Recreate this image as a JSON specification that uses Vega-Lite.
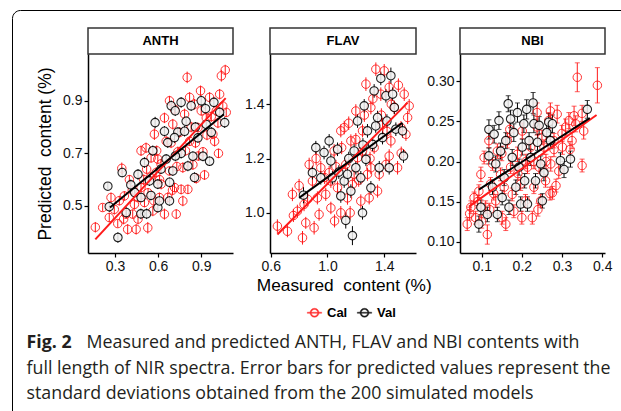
{
  "$schema": "https://vega.github.io/schema/vega-lite/v6.json",
  "padding": {"left": 11, "top": 9, "right": 0, "bottom": 0},
  "background": "white",
  "datasets": {
    "anth": [
      {"s":"Cal","m":0.163,"p":0.419,"e":0.02},{"s":"Cal","m":0.214,"p":0.494,"e":0.015},{"s":"Cal","m":0.26,"p":0.456,"e":0.018},{"s":"Cal","m":0.295,"p":0.487,"e":0.02},{"s":"Cal","m":0.319,"p":0.433,"e":0.015},{"s":"Cal","m":0.347,"p":0.643,"e":0.022},{"s":"Cal","m":0.365,"p":0.538,"e":0.018},{"s":"Cal","m":0.388,"p":0.411,"e":0.02},{"s":"Cal","m":0.423,"p":0.469,"e":0.017},{"s":"Cal","m":0.447,"p":0.411,"e":0.02},{"s":"Cal","m":0.458,"p":0.532,"e":0.016},{"s":"Cal","m":0.481,"p":0.57,"e":0.02},{"s":"Cal","m":0.505,"p":0.513,"e":0.018},{"s":"Cal","m":0.528,"p":0.417,"e":0.022},{"s":"Cal","m":0.547,"p":0.61,"e":0.017},{"s":"Cal","m":0.563,"p":0.481,"e":0.02},{"s":"Cal","m":0.574,"p":0.773,"e":0.022},{"s":"Cal","m":0.598,"p":0.678,"e":0.018},{"s":"Cal","m":0.621,"p":0.583,"e":0.02},{"s":"Cal","m":0.644,"p":0.469,"e":0.021},{"s":"Cal","m":0.656,"p":0.746,"e":0.019},{"s":"Cal","m":0.679,"p":0.633,"e":0.017},{"s":"Cal","m":0.702,"p":0.811,"e":0.02},{"s":"Cal","m":0.714,"p":0.57,"e":0.018},{"s":"Cal","m":0.737,"p":0.706,"e":0.02},{"s":"Cal","m":0.76,"p":0.563,"e":0.019},{"s":"Cal","m":0.784,"p":0.849,"e":0.021},{"s":"Cal","m":0.802,"p":0.989,"e":0.022},{"s":"Cal","m":0.819,"p":0.746,"e":0.018},{"s":"Cal","m":0.842,"p":0.657,"e":0.02},{"s":"Cal","m":0.853,"p":0.887,"e":0.02},{"s":"Cal","m":0.877,"p":0.798,"e":0.019},{"s":"Cal","m":0.895,"p":0.938,"e":0.02},{"s":"Cal","m":0.912,"p":0.706,"e":0.018},{"s":"Cal","m":0.935,"p":0.835,"e":0.021},{"s":"Cal","m":0.958,"p":0.913,"e":0.02},{"s":"Cal","m":0.981,"p":0.773,"e":0.019},{"s":"Cal","m":1.005,"p":0.862,"e":0.02},{"s":"Cal","m":1.04,"p":0.995,"e":0.022},{"s":"Cal","m":1.067,"p":1.017,"e":0.02},{"s":"Cal","m":1.074,"p":0.856,"e":0.018},{"s":"Cal","m":1.028,"p":0.925,"e":0.02},{"s":"Cal","m":0.481,"p":0.71,"e":0.02},{"s":"Cal","m":0.4,"p":0.6,"e":0.018},{"s":"Cal","m":0.516,"p":0.721,"e":0.02},{"s":"Cal","m":0.667,"p":0.532,"e":0.02},{"s":"Cal","m":0.726,"p":0.469,"e":0.019},{"s":"Cal","m":0.772,"p":0.519,"e":0.02},{"s":"Cal","m":0.807,"p":0.563,"e":0.018},{"s":"Cal","m":0.865,"p":0.605,"e":0.02},{"s":"Cal","m":0.923,"p":0.618,"e":0.019},{"s":"Cal","m":0.993,"p":0.746,"e":0.02},{"s":"Cal","m":1.016,"p":0.816,"e":0.02},{"s":"Cal","m":0.9,"p":0.862,"e":0.019},{"s":"Cal","m":0.714,"p":0.868,"e":0.02},{"s":"Cal","m":0.644,"p":0.835,"e":0.02},{"s":"Cal","m":0.551,"p":0.683,"e":0.018},{"s":"Cal","m":0.586,"p":0.627,"e":0.02},{"s":"Cal","m":0.609,"p":0.532,"e":0.019},{"s":"Cal","m":0.435,"p":0.506,"e":0.02},{"s":"Cal","m":0.377,"p":0.469,"e":0.018},{"s":"Cal","m":0.272,"p":0.532,"e":0.019},{"s":"Cal","m":0.772,"p":0.646,"e":0.02},{"s":"Cal","m":0.819,"p":0.913,"e":0.02},{"s":"Cal","m":0.679,"p":0.9,"e":0.019},{"s":"Cal","m":0.33,"p":0.52,"e":0.018},{"s":"Cal","m":0.36,"p":0.45,"e":0.02},{"s":"Cal","m":0.42,"p":0.56,"e":0.019},{"s":"Cal","m":0.5,"p":0.6,"e":0.02},{"s":"Cal","m":0.53,"p":0.55,"e":0.018},{"s":"Cal","m":0.57,"p":0.52,"e":0.02},{"s":"Cal","m":0.62,"p":0.66,"e":0.019},{"s":"Cal","m":0.69,"p":0.74,"e":0.02},{"s":"Cal","m":0.73,"p":0.65,"e":0.018},{"s":"Cal","m":0.75,"p":0.78,"e":0.02},{"s":"Cal","m":0.79,"p":0.71,"e":0.019},{"s":"Cal","m":0.83,"p":0.8,"e":0.02},{"s":"Cal","m":0.86,"p":0.74,"e":0.02},{"s":"Cal","m":0.88,"p":0.69,"e":0.018},{"s":"Cal","m":0.94,"p":0.77,"e":0.02},{"s":"Cal","m":0.97,"p":0.84,"e":0.02},{"s":"Cal","m":1.05,"p":0.88,"e":0.019},{"s":"Cal","m":1.02,"p":0.7,"e":0.018},{"s":"Cal","m":0.7,"p":0.56,"e":0.02},{"s":"Cal","m":0.61,"p":0.6,"e":0.018},{"s":"Cal","m":0.46,"p":0.45,"e":0.02},{"s":"Cal","m":0.52,"p":0.64,"e":0.019},{"s":"Cal","m":0.59,"p":0.71,"e":0.02},
      {"s":"Val","m":0.26,"p":0.497,"e":0.02},{"s":"Val","m":0.25,"p":0.575,"e":0.015},{"s":"Val","m":0.32,"p":0.38,"e":0.02},{"s":"Val","m":0.35,"p":0.627,"e":0.018},{"s":"Val","m":0.378,"p":0.475,"e":0.02},{"s":"Val","m":0.437,"p":0.551,"e":0.017},{"s":"Val","m":0.46,"p":0.62,"e":0.02},{"s":"Val","m":0.481,"p":0.532,"e":0.018},{"s":"Val","m":0.505,"p":0.665,"e":0.02},{"s":"Val","m":0.54,"p":0.595,"e":0.019},{"s":"Val","m":0.563,"p":0.71,"e":0.02},{"s":"Val","m":0.579,"p":0.817,"e":0.022},{"s":"Val","m":0.598,"p":0.494,"e":0.02},{"s":"Val","m":0.609,"p":0.519,"e":0.018},{"s":"Val","m":0.644,"p":0.784,"e":0.02},{"s":"Val","m":0.656,"p":0.678,"e":0.019},{"s":"Val","m":0.667,"p":0.741,"e":0.02},{"s":"Val","m":0.679,"p":0.519,"e":0.018},{"s":"Val","m":0.691,"p":0.881,"e":0.02},{"s":"Val","m":0.702,"p":0.633,"e":0.019},{"s":"Val","m":0.719,"p":0.862,"e":0.02},{"s":"Val","m":0.737,"p":0.781,"e":0.018},{"s":"Val","m":0.76,"p":0.894,"e":0.02},{"s":"Val","m":0.76,"p":0.7,"e":0.019},{"s":"Val","m":0.784,"p":0.784,"e":0.02},{"s":"Val","m":0.795,"p":0.822,"e":0.018},{"s":"Val","m":0.807,"p":0.652,"e":0.02},{"s":"Val","m":0.83,"p":0.881,"e":0.02},{"s":"Val","m":0.842,"p":0.689,"e":0.019},{"s":"Val","m":0.853,"p":0.608,"e":0.02},{"s":"Val","m":0.877,"p":0.759,"e":0.018},{"s":"Val","m":0.9,"p":0.9,"e":0.02},{"s":"Val","m":0.912,"p":0.689,"e":0.019},{"s":"Val","m":0.935,"p":0.81,"e":0.02},{"s":"Val","m":0.958,"p":0.67,"e":0.018},{"s":"Val","m":0.97,"p":0.78,"e":0.02},{"s":"Val","m":0.988,"p":0.894,"e":0.02},{"s":"Val","m":1.028,"p":0.856,"e":0.019},{"s":"Val","m":1.063,"p":0.817,"e":0.02},{"s":"Val","m":0.714,"p":0.76,"e":0.02},{"s":"Val","m":0.598,"p":0.583,"e":0.019},{"s":"Val","m":0.48,"p":0.47,"e":0.02},{"s":"Val","m":0.62,"p":0.64,"e":0.018},{"s":"Val","m":0.72,"p":0.69,"e":0.02},{"s":"Val","m":0.55,"p":0.54,"e":0.018},{"s":"Val","m":0.41,"p":0.58,"e":0.02},{"s":"Val","m":0.86,"p":0.8,"e":0.019},{"s":"Val","m":0.93,"p":0.87,"e":0.02},{"s":"Val","m":0.68,"p":0.59,"e":0.018},{"s":"Val","m":0.52,"p":0.47,"e":0.02}
    ],
    "flav": [
      {"s":"Cal","m":0.647,"p":0.951,"e":0.025},{"s":"Cal","m":0.718,"p":0.932,"e":0.022},{"s":"Cal","m":0.753,"p":1.068,"e":0.025},{"s":"Cal","m":0.788,"p":1.006,"e":0.024},{"s":"Cal","m":0.824,"p":0.908,"e":0.025},{"s":"Cal","m":0.847,"p":0.963,"e":0.022},{"s":"Cal","m":0.871,"p":1.178,"e":0.025},{"s":"Cal","m":0.894,"p":1.117,"e":0.024},{"s":"Cal","m":0.906,"p":0.945,"e":0.025},{"s":"Cal","m":0.941,"p":0.994,"e":0.023},{"s":"Cal","m":0.953,"p":1.166,"e":0.025},{"s":"Cal","m":0.988,"p":1.068,"e":0.024},{"s":"Cal","m":1.012,"p":1.148,"e":0.025},{"s":"Cal","m":1.024,"p":1.018,"e":0.023},{"s":"Cal","m":1.047,"p":1.228,"e":0.025},{"s":"Cal","m":1.071,"p":1.092,"e":0.024},{"s":"Cal","m":1.094,"p":1.0,"e":0.025},{"s":"Cal","m":1.118,"p":1.314,"e":0.025},{"s":"Cal","m":1.129,"p":1.178,"e":0.023},{"s":"Cal","m":1.141,"p":1.055,"e":0.025},{"s":"Cal","m":1.165,"p":1.265,"e":0.024},{"s":"Cal","m":1.176,"p":1.105,"e":0.025},{"s":"Cal","m":1.2,"p":1.375,"e":0.025},{"s":"Cal","m":1.212,"p":1.203,"e":0.023},{"s":"Cal","m":1.235,"p":1.043,"e":0.025},{"s":"Cal","m":1.247,"p":1.302,"e":0.024},{"s":"Cal","m":1.271,"p":1.474,"e":0.025},{"s":"Cal","m":1.282,"p":1.142,"e":0.024},{"s":"Cal","m":1.306,"p":1.388,"e":0.025},{"s":"Cal","m":1.329,"p":1.24,"e":0.023},{"s":"Cal","m":1.341,"p":1.529,"e":0.025},{"s":"Cal","m":1.353,"p":1.08,"e":0.024},{"s":"Cal","m":1.376,"p":1.437,"e":0.025},{"s":"Cal","m":1.388,"p":1.326,"e":0.024},{"s":"Cal","m":1.412,"p":1.178,"e":0.025},{"s":"Cal","m":1.435,"p":1.462,"e":0.024},{"s":"Cal","m":1.447,"p":1.265,"e":0.025},{"s":"Cal","m":1.471,"p":1.388,"e":0.024},{"s":"Cal","m":1.494,"p":1.166,"e":0.025},{"s":"Cal","m":1.518,"p":1.314,"e":0.024},{"s":"Cal","m":1.541,"p":1.437,"e":0.025},{"s":"Cal","m":1.565,"p":1.351,"e":0.024},{"s":"Cal","m":1.576,"p":1.394,"e":0.025},{"s":"Cal","m":1.553,"p":1.289,"e":0.024},{"s":"Cal","m":1.024,"p":1.117,"e":0.025},{"s":"Cal","m":0.929,"p":1.055,"e":0.024},{"s":"Cal","m":0.835,"p":1.031,"e":0.025},{"s":"Cal","m":1.094,"p":1.302,"e":0.024},{"s":"Cal","m":1.188,"p":1.142,"e":0.025},{"s":"Cal","m":1.294,"p":1.055,"e":0.024},{"s":"Cal","m":1.4,"p":1.523,"e":0.025},{"s":"Cal","m":1.365,"p":1.142,"e":0.024},{"s":"Cal","m":1.435,"p":1.209,"e":0.025},{"s":"Cal","m":1.306,"p":1.166,"e":0.024},{"s":"Cal","m":1.247,"p":1.228,"e":0.025},{"s":"Cal","m":0.76,"p":0.99,"e":0.024},{"s":"Cal","m":0.8,"p":1.1,"e":0.025},{"s":"Cal","m":0.86,"p":1.05,"e":0.024},{"s":"Cal","m":0.92,"p":1.2,"e":0.025},{"s":"Cal","m":0.98,"p":1.13,"e":0.024},{"s":"Cal","m":1.06,"p":1.17,"e":0.025},{"s":"Cal","m":1.1,"p":1.24,"e":0.024},{"s":"Cal","m":1.15,"p":1.33,"e":0.025},{"s":"Cal","m":1.2,"p":1.27,"e":0.024},{"s":"Cal","m":1.26,"p":1.36,"e":0.025},{"s":"Cal","m":1.32,"p":1.42,"e":0.024},{"s":"Cal","m":1.38,"p":1.36,"e":0.025},{"s":"Cal","m":1.45,"p":1.4,"e":0.024},{"s":"Cal","m":1.5,"p":1.47,"e":0.025},{"s":"Cal","m":1.22,"p":1.12,"e":0.024},{"s":"Cal","m":1.16,"p":1.0,"e":0.025},{"s":"Cal","m":1.05,"p":0.97,"e":0.024},{"s":"Cal","m":1.42,"p":1.3,"e":0.025},{"s":"Cal","m":1.52,"p":1.22,"e":0.024},{"s":"Cal","m":1.3,"p":1.2,"e":0.025},
      {"s":"Val","m":0.831,"p":1.065,"e":0.03},{"s":"Val","m":0.918,"p":1.24,"e":0.025},{"s":"Val","m":0.894,"p":1.148,"e":0.025},{"s":"Val","m":0.976,"p":1.222,"e":0.025},{"s":"Val","m":1.012,"p":1.265,"e":0.025},{"s":"Val","m":0.953,"p":1.129,"e":0.025},{"s":"Val","m":1.035,"p":1.129,"e":0.025},{"s":"Val","m":1.071,"p":1.234,"e":0.025},{"s":"Val","m":1.094,"p":1.062,"e":0.025},{"s":"Val","m":1.118,"p":1.117,"e":0.025},{"s":"Val","m":1.129,"p":0.972,"e":0.03},{"s":"Val","m":1.176,"p":0.916,"e":0.035},{"s":"Val","m":1.141,"p":1.142,"e":0.025},{"s":"Val","m":1.165,"p":1.08,"e":0.025},{"s":"Val","m":1.188,"p":1.228,"e":0.025},{"s":"Val","m":1.2,"p":1.166,"e":0.025},{"s":"Val","m":1.212,"p":1.338,"e":0.025},{"s":"Val","m":1.235,"p":1.129,"e":0.025},{"s":"Val","m":1.247,"p":1.0,"e":0.025},{"s":"Val","m":1.259,"p":1.394,"e":0.025},{"s":"Val","m":1.271,"p":1.197,"e":0.025},{"s":"Val","m":1.282,"p":1.302,"e":0.025},{"s":"Val","m":1.306,"p":1.092,"e":0.025},{"s":"Val","m":1.318,"p":1.252,"e":0.025},{"s":"Val","m":1.329,"p":1.449,"e":0.025},{"s":"Val","m":1.353,"p":1.351,"e":0.025},{"s":"Val","m":1.365,"p":1.166,"e":0.025},{"s":"Val","m":1.376,"p":1.495,"e":0.025},{"s":"Val","m":1.388,"p":1.277,"e":0.025},{"s":"Val","m":1.412,"p":1.431,"e":0.025},{"s":"Val","m":1.419,"p":1.338,"e":0.025},{"s":"Val","m":1.435,"p":1.166,"e":0.025},{"s":"Val","m":1.447,"p":1.505,"e":0.03},{"s":"Val","m":1.459,"p":1.437,"e":0.025},{"s":"Val","m":1.471,"p":1.388,"e":0.025},{"s":"Val","m":1.482,"p":1.308,"e":0.025},{"s":"Val","m":1.529,"p":1.302,"e":0.025},{"s":"Val","m":1.536,"p":1.209,"e":0.025},{"s":"Val","m":1.024,"p":1.191,"e":0.025},{"s":"Val","m":1.25,"p":1.25,"e":0.025},{"s":"Val","m":1.34,"p":1.32,"e":0.025},{"s":"Val","m":1.15,"p":1.2,"e":0.025},{"s":"Val","m":1.08,"p":1.15,"e":0.025}
    ],
    "nbi": [
      {"s":"Cal","m":0.064,"p":0.122,"e":0.008},{"s":"Cal","m":0.073,"p":0.143,"e":0.008},{"s":"Cal","m":0.081,"p":0.155,"e":0.007},{"s":"Cal","m":0.085,"p":0.13,"e":0.008},{"s":"Cal","m":0.093,"p":0.163,"e":0.008},{"s":"Cal","m":0.098,"p":0.184,"e":0.009},{"s":"Cal","m":0.106,"p":0.205,"e":0.008},{"s":"Cal","m":0.11,"p":0.143,"e":0.008},{"s":"Cal","m":0.114,"p":0.109,"e":0.012},{"s":"Cal","m":0.118,"p":0.226,"e":0.009},{"s":"Cal","m":0.122,"p":0.172,"e":0.008},{"s":"Cal","m":0.127,"p":0.197,"e":0.008},{"s":"Cal","m":0.135,"p":0.151,"e":0.008},{"s":"Cal","m":0.139,"p":0.213,"e":0.009},{"s":"Cal","m":0.147,"p":0.184,"e":0.008},{"s":"Cal","m":0.151,"p":0.13,"e":0.008},{"s":"Cal","m":0.156,"p":0.168,"e":0.008},{"s":"Cal","m":0.16,"p":0.122,"e":0.008},{"s":"Cal","m":0.164,"p":0.226,"e":0.009},{"s":"Cal","m":0.172,"p":0.193,"e":0.008},{"s":"Cal","m":0.176,"p":0.159,"e":0.008},{"s":"Cal","m":0.18,"p":0.138,"e":0.008},{"s":"Cal","m":0.189,"p":0.209,"e":0.009},{"s":"Cal","m":0.197,"p":0.172,"e":0.008},{"s":"Cal","m":0.201,"p":0.238,"e":0.01},{"s":"Cal","m":0.209,"p":0.151,"e":0.008},{"s":"Cal","m":0.214,"p":0.193,"e":0.008},{"s":"Cal","m":0.222,"p":0.218,"e":0.009},{"s":"Cal","m":0.226,"p":0.13,"e":0.008},{"s":"Cal","m":0.23,"p":0.168,"e":0.008},{"s":"Cal","m":0.238,"p":0.243,"e":0.01},{"s":"Cal","m":0.243,"p":0.193,"e":0.008},{"s":"Cal","m":0.247,"p":0.151,"e":0.008},{"s":"Cal","m":0.255,"p":0.218,"e":0.009},{"s":"Cal","m":0.259,"p":0.176,"e":0.008},{"s":"Cal","m":0.267,"p":0.251,"e":0.01},{"s":"Cal","m":0.272,"p":0.197,"e":0.009},{"s":"Cal","m":0.276,"p":0.161,"e":0.008},{"s":"Cal","m":0.28,"p":0.226,"e":0.009},{"s":"Cal","m":0.288,"p":0.259,"e":0.011},{"s":"Cal","m":0.292,"p":0.188,"e":0.009},{"s":"Cal","m":0.301,"p":0.218,"e":0.009},{"s":"Cal","m":0.309,"p":0.243,"e":0.01},{"s":"Cal","m":0.317,"p":0.251,"e":0.01},{"s":"Cal","m":0.325,"p":0.226,"e":0.01},{"s":"Cal","m":0.33,"p":0.257,"e":0.012},{"s":"Cal","m":0.334,"p":0.247,"e":0.01},{"s":"Cal","m":0.338,"p":0.305,"e":0.018},{"s":"Cal","m":0.35,"p":0.195,"e":0.008},{"s":"Cal","m":0.354,"p":0.238,"e":0.01},{"s":"Cal","m":0.388,"p":0.295,"e":0.022},{"s":"Cal","m":0.238,"p":0.261,"e":0.012},{"s":"Cal","m":0.271,"p":0.263,"e":0.01},{"s":"Cal","m":0.07,"p":0.135,"e":0.008},{"s":"Cal","m":0.09,"p":0.15,"e":0.008},{"s":"Cal","m":0.1,"p":0.125,"e":0.008},{"s":"Cal","m":0.13,"p":0.16,"e":0.008},{"s":"Cal","m":0.15,"p":0.21,"e":0.009},{"s":"Cal","m":0.17,"p":0.24,"e":0.01},{"s":"Cal","m":0.19,"p":0.185,"e":0.008},{"s":"Cal","m":0.21,"p":0.2,"e":0.009},{"s":"Cal","m":0.23,"p":0.2,"e":0.009},{"s":"Cal","m":0.25,"p":0.23,"e":0.009},{"s":"Cal","m":0.26,"p":0.2,"e":0.009},{"s":"Cal","m":0.28,"p":0.215,"e":0.009},{"s":"Cal","m":0.3,"p":0.235,"e":0.01},{"s":"Cal","m":0.32,"p":0.215,"e":0.01},{"s":"Cal","m":0.27,"p":0.16,"e":0.008},{"s":"Cal","m":0.24,"p":0.14,"e":0.008},{"s":"Cal","m":0.2,"p":0.13,"e":0.008},{"s":"Cal","m":0.35,"p":0.26,"e":0.01},{"s":"Cal","m":0.285,"p":0.17,"e":0.008},{"s":"Cal","m":0.12,"p":0.14,"e":0.008},
      {"s":"Val","m":0.093,"p":0.122,"e":0.01},{"s":"Val","m":0.098,"p":0.143,"e":0.009},{"s":"Val","m":0.114,"p":0.134,"e":0.009},{"s":"Val","m":0.118,"p":0.24,"e":0.012},{"s":"Val","m":0.118,"p":0.207,"e":0.01},{"s":"Val","m":0.127,"p":0.168,"e":0.009},{"s":"Val","m":0.131,"p":0.234,"e":0.011},{"s":"Val","m":0.135,"p":0.197,"e":0.01},{"s":"Val","m":0.139,"p":0.134,"e":0.009},{"s":"Val","m":0.143,"p":0.251,"e":0.011},{"s":"Val","m":0.147,"p":0.213,"e":0.01},{"s":"Val","m":0.151,"p":0.155,"e":0.009},{"s":"Val","m":0.156,"p":0.18,"e":0.01},{"s":"Val","m":0.16,"p":0.226,"e":0.01},{"s":"Val","m":0.166,"p":0.272,"e":0.01},{"s":"Val","m":0.168,"p":0.143,"e":0.009},{"s":"Val","m":0.172,"p":0.253,"e":0.011},{"s":"Val","m":0.176,"p":0.205,"e":0.01},{"s":"Val","m":0.18,"p":0.236,"e":0.011},{"s":"Val","m":0.185,"p":0.168,"e":0.009},{"s":"Val","m":0.189,"p":0.261,"e":0.012},{"s":"Val","m":0.193,"p":0.193,"e":0.01},{"s":"Val","m":0.197,"p":0.147,"e":0.009},{"s":"Val","m":0.201,"p":0.218,"e":0.01},{"s":"Val","m":0.205,"p":0.247,"e":0.011},{"s":"Val","m":0.207,"p":0.176,"e":0.009},{"s":"Val","m":0.212,"p":0.265,"e":0.012},{"s":"Val","m":0.214,"p":0.147,"e":0.009},{"s":"Val","m":0.218,"p":0.226,"e":0.01},{"s":"Val","m":0.222,"p":0.205,"e":0.01},{"s":"Val","m":0.228,"p":0.273,"e":0.013},{"s":"Val","m":0.23,"p":0.247,"e":0.011},{"s":"Val","m":0.234,"p":0.176,"e":0.009},{"s":"Val","m":0.239,"p":0.224,"e":0.01},{"s":"Val","m":0.243,"p":0.245,"e":0.011},{"s":"Val","m":0.247,"p":0.197,"e":0.01},{"s":"Val","m":0.251,"p":0.151,"e":0.009},{"s":"Val","m":0.255,"p":0.186,"e":0.01},{"s":"Val","m":0.262,"p":0.236,"e":0.011},{"s":"Val","m":0.267,"p":0.249,"e":0.011},{"s":"Val","m":0.271,"p":0.226,"e":0.01},{"s":"Val","m":0.276,"p":0.247,"e":0.011},{"s":"Val","m":0.296,"p":0.201,"e":0.01},{"s":"Val","m":0.305,"p":0.19,"e":0.01},{"s":"Val","m":0.321,"p":0.203,"e":0.01},{"s":"Val","m":0.363,"p":0.265,"e":0.011}
    ],
    "fits": [
      {"g":"ANTH","s":"Cal","m":0.163,"p":0.373},{"g":"ANTH","s":"Cal","m":1.07,"p":0.91},
      {"g":"ANTH","s":"Val","m":0.265,"p":0.494},{"g":"ANTH","s":"Val","m":1.058,"p":0.849},
      {"g":"FLAV","s":"Cal","m":0.647,"p":0.92},{"g":"FLAV","s":"Cal","m":1.565,"p":1.406},
      {"g":"FLAV","s":"Val","m":0.8,"p":1.055},{"g":"FLAV","s":"Val","m":1.529,"p":1.332},
      {"g":"NBI","s":"Cal","m":0.0685,"p":0.1438},{"g":"NBI","s":"Cal","m":0.386,"p":0.258},
      {"g":"NBI","s":"Val","m":0.093,"p":0.165},{"g":"NBI","s":"Val","m":0.369,"p":0.254}
    ]
  },
  "vconcat": [
    {
      "vconcat": [
        {
          "hconcat": [
            {
              "vconcat": [
                {"width": 145, "height": 26, "data": {"values": [{"t": "ANTH"}]}, "view": {"stroke": "#333333", "strokeWidth": 1.5},
                 "mark": {"type": "text", "font": "Liberation Sans", "fontSize": 13, "fontWeight": "bold", "color": "#000000"},
                 "encoding": {"text": {"field": "t", "type": "nominal"}}},
                {"width": 145, "height": 199,
                 "layer": [
                   {"data": {"name": "anth"}, "mark": {"type": "errorbar", "thickness": 1},
                    "encoding": {
                      "x": {"field": "m", "type": "quantitative", "scale": {"domain": [0.112, 1.121], "nice": false, "zero": false}, "axis": {"values": [0.3, 0.6, 0.9], "format": ".1f", "title": null}},
                      "y": {"field": "p", "type": "quantitative", "scale": {"domain": [0.321, 1.078], "nice": false, "zero": false}, "axis": {"values": [0.5, 0.7, 0.9], "format": ".1f", "title": "Predicted\u00a0 content (%)"}},
                      "yError": {"field": "e"},
                      "color": {"field": "s", "type": "nominal", "scale": {"domain": ["Cal", "Val"], "range": ["#ff1a1a", "#000000"]},
                                "legend": {"orient": "none", "legendX": -76, "legendY": -18, "direction": "horizontal", "title": null, "padding": 296, "strokeColor": "#000000", "cornerRadius": 8,
                                           "symbolType": "M-1,0A1,1,0,1,1,1,0A1,1,0,1,1,-1,0ZM-0.72,0A0.72,0.72,0,1,0,0.72,0A0.72,0.72,0,1,0,-0.72,0ZM-1.6,-0.13L1.6,-0.13L1.6,0.13L-1.6,0.13Z", "symbolSize": 81, "symbolStrokeWidth": 0.4, "symbolOpacity": 1,
                                           "labelFont": "Liberation Sans", "labelFontSize": 13, "labelFontWeight": "bold", "labelColor": "#000000", "labelOffset": 6, "columnPadding": 8}}
                    }},
                   {"data": {"name": "anth"}, "transform": [{"filter": "datum.s === 'Cal'"}], "mark": {"type": "point", "shape": "circle", "size": 72, "strokeWidth": 1, "opacity": 0.9, "filled": false},
                    "encoding": {
                      "x": {"field": "m", "type": "quantitative"},
                      "y": {"field": "p", "type": "quantitative"},
                      "color": {"field": "s", "type": "nominal"}
                    }},
                   {"data": {"name": "anth"}, "transform": [{"filter": "datum.s === 'Val'"}], "mark": {"type": "point", "shape": "circle", "size": 72, "strokeWidth": 1.1, "opacity": 0.85, "filled": false, "fill": "#f2f2f2"},
                    "encoding": {
                      "x": {"field": "m", "type": "quantitative"},
                      "y": {"field": "p", "type": "quantitative"},
                      "color": {"field": "s", "type": "nominal"}
                    }},
                   {"data": {"name": "fits"}, "transform": [{"filter": "datum.g === 'ANTH'"}], "mark": {"type": "line", "strokeWidth": 2},
                    "encoding": {
                      "x": {"field": "m", "type": "quantitative"},
                      "y": {"field": "p", "type": "quantitative"},
                      "color": {"field": "s", "type": "nominal"}
                    }}
                 ]}
              ],
              "spacing": 0, "bounds": "flush"
            },
            {
              "vconcat": [
                {"width": 146, "height": 26, "data": {"values": [{"t": "FLAV"}]}, "view": {"stroke": "#333333", "strokeWidth": 1.5},
                 "mark": {"type": "text", "font": "Liberation Sans", "fontSize": 13, "fontWeight": "bold", "color": "#000000"},
                 "encoding": {"text": {"field": "t", "type": "nominal"}}},
                {"width": 146, "height": 199,
                 "layer": [
                   {"data": {"name": "flav"}, "mark": {"type": "errorbar", "thickness": 1},
                    "encoding": {
                      "x": {"field": "m", "type": "quantitative", "scale": {"domain": [0.595, 1.624], "nice": false, "zero": false}, "axis": {"values": [0.6, 0.8, 1.0, 1.2, 1.4, 1.6], "format": ".1f", "title": null}},
                      "y": {"field": "p", "type": "quantitative", "scale": {"domain": [0.852, 1.585], "nice": false, "zero": false}, "axis": {"values": [1.0, 1.2, 1.4], "format": ".1f", "title": null, "minExtent": 32, "maxExtent": 32}},
                      "yError": {"field": "e"},
                      "color": {"field": "s", "type": "nominal"}
                    }},
                   {"data": {"name": "flav"}, "transform": [{"filter": "datum.s === 'Cal'"}], "mark": {"type": "point", "shape": "circle", "size": 72, "strokeWidth": 1, "opacity": 0.9, "filled": false},
                    "encoding": {
                      "x": {"field": "m", "type": "quantitative"},
                      "y": {"field": "p", "type": "quantitative"},
                      "color": {"field": "s", "type": "nominal"}
                    }},
                   {"data": {"name": "flav"}, "transform": [{"filter": "datum.s === 'Val'"}], "mark": {"type": "point", "shape": "circle", "size": 72, "strokeWidth": 1.1, "opacity": 0.85, "filled": false, "fill": "#f2f2f2"},
                    "encoding": {
                      "x": {"field": "m", "type": "quantitative"},
                      "y": {"field": "p", "type": "quantitative"},
                      "color": {"field": "s", "type": "nominal"}
                    }},
                   {"data": {"name": "fits"}, "transform": [{"filter": "datum.g === 'FLAV'"}], "mark": {"type": "line", "strokeWidth": 2},
                    "encoding": {
                      "x": {"field": "m", "type": "quantitative"},
                      "y": {"field": "p", "type": "quantitative"},
                      "color": {"field": "s", "type": "nominal"}
                    }}
                 ]}
              ],
              "spacing": 0, "bounds": "flush"
            },
            {
              "vconcat": [
                {"width": 145, "height": 26, "data": {"values": [{"t": "NBI"}]}, "view": {"stroke": "#333333", "strokeWidth": 1.5},
                 "mark": {"type": "text", "font": "Liberation Sans", "fontSize": 13, "fontWeight": "bold", "color": "#000000"},
                 "encoding": {"text": {"field": "t", "type": "nominal"}}},
                {"width": 145, "height": 199,
                 "layer": [
                   {"data": {"name": "nbi"}, "mark": {"type": "errorbar", "thickness": 1, "ticks": {"size": 5, "thickness": 1}},
                    "encoding": {
                      "x": {"field": "m", "type": "quantitative", "scale": {"domain": [0.046, 0.407], "nice": false, "zero": false}, "axis": {"values": [0.1, 0.2, 0.3, 0.4], "format": ".1f", "title": null}},
                      "y": {"field": "p", "type": "quantitative", "scale": {"domain": [0.086, 0.334], "nice": false, "zero": false}, "axis": {"values": [0.1, 0.15, 0.2, 0.25, 0.3], "format": ".2f", "title": null, "minExtent": 39, "maxExtent": 39}},
                      "yError": {"field": "e"},
                      "color": {"field": "s", "type": "nominal"}
                    }},
                   {"data": {"name": "nbi"}, "transform": [{"filter": "datum.s === 'Cal'"}], "mark": {"type": "point", "shape": "circle", "size": 72, "strokeWidth": 1, "opacity": 0.9, "filled": false},
                    "encoding": {
                      "x": {"field": "m", "type": "quantitative"},
                      "y": {"field": "p", "type": "quantitative"},
                      "color": {"field": "s", "type": "nominal"}
                    }},
                   {"data": {"name": "nbi"}, "transform": [{"filter": "datum.s === 'Val'"}], "mark": {"type": "point", "shape": "circle", "size": 72, "strokeWidth": 1.1, "opacity": 0.85, "filled": false, "fill": "#f2f2f2"},
                    "encoding": {
                      "x": {"field": "m", "type": "quantitative"},
                      "y": {"field": "p", "type": "quantitative"},
                      "color": {"field": "s", "type": "nominal"}
                    }},
                   {"data": {"name": "fits"}, "transform": [{"filter": "datum.g === 'NBI'"}], "mark": {"type": "line", "strokeWidth": 2},
                    "encoding": {
                      "x": {"field": "m", "type": "quantitative"},
                      "y": {"field": "p", "type": "quantitative"},
                      "color": {"field": "s", "type": "nominal"}
                    }}
                 ]}
              ],
              "spacing": 0, "bounds": "flush"
            }
          ],
          "spacing": 4,
          "title": {
            "text": "Measured\u00a0 content (%)", "orient": "bottom", "anchor": "middle", "dx": 20, "offset": 4, "baseline": "top",
            "font": "Liberation Sans", "fontSize": 17.3, "fontWeight": "normal", "color": "#000000"
          }
        }
      ],
      "title": {
        "text": "Fig. 2",
        "subtitle": ["\u200b\u00a0\u00a0\u00a0\u00a0\u00a0\u00a0\u00a0\u00a0\u00a0\u00a0\u00a0\u00a0\u00a0Measured and predicted ANTH, FLAV and NBI contents with", "full length of NIR spectra. Error bars for predicted values represent the", "standard deviations obtained from the 200 simulated models"],
        "orient": "bottom", "anchor": "start", "frame": "bounds", "dx": -10, "offset": 40, "baseline": "top",
        "font": "Open Sans", "fontSize": 17.8, "fontWeight": "bold", "color": "#231f20",
        "subtitleFont": "Open Sans", "subtitleFontSize": 17.8, "subtitleFontWeight": "normal", "subtitleColor": "#231f20", "subtitleLineHeight": 25.5, "subtitlePadding": -17.8
      }
    }
  ],
  "config": {
    "view": {"stroke": null},
    "axis": {"grid": false, "domainColor": "#000000", "domainWidth": 1.5, "tickColor": "#000000", "tickWidth": 1.2, "tickSize": 4, "labelFont": "Liberation Sans", "labelFontSize": 14, "labelColor": "#111111", "labelPadding": 2, "labelFlush": false, "labelOverlap": false, "titleFont": "Liberation Sans", "titleFontSize": 17.5, "titleFontWeight": "normal", "titleColor": "#000000"},
    "axisY": {"titlePadding": 8}
  }
}
